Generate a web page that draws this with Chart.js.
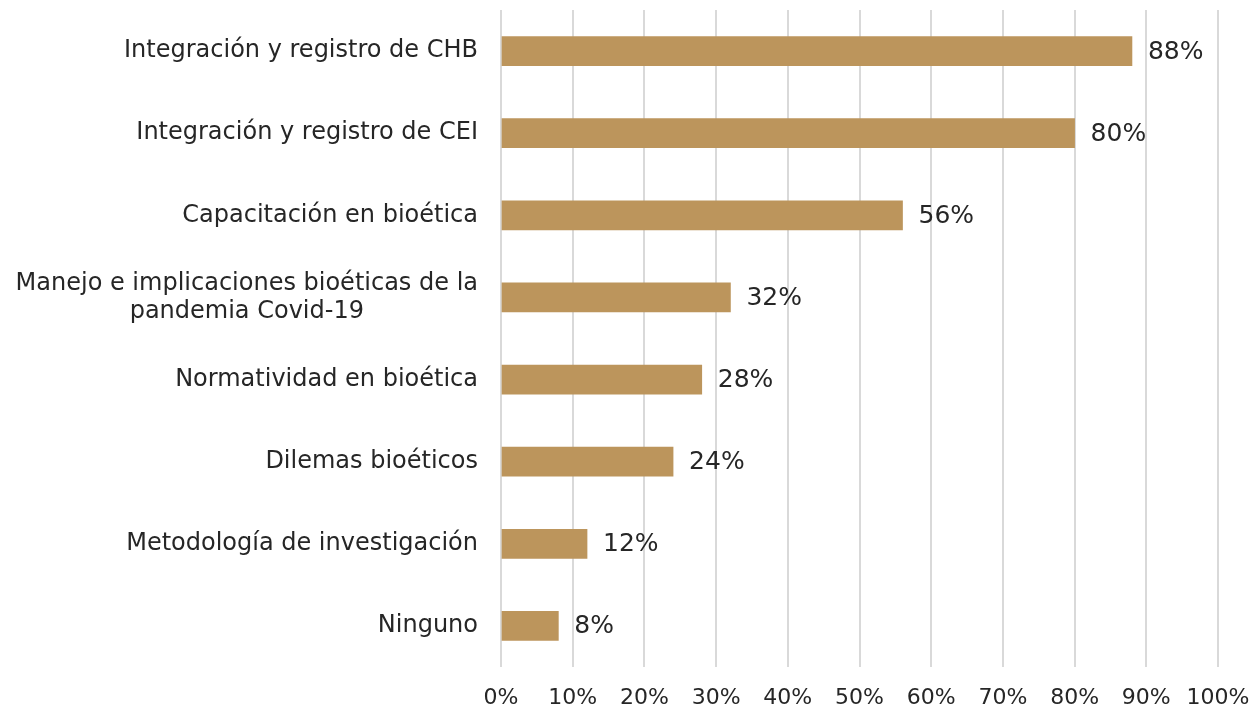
<!DOCTYPE html>
<html>
<head>
<meta charset="utf-8">
<script src="https://cdn.jsdelivr.net/npm/chart.js@4"></script>
<style>
  html, body { margin: 0; padding: 0; background: #fff; }
  #wrap { width: 1253px; height: 708px; }
</style>
</head>
<body>
<div id="wrap"><canvas id="chart"></canvas></div>
<script>
const categories = [
    ['Integración y registro de CHB'],
    ['Integración y registro de CEI'],
    ['Capacitación en bioética'],
    ['Manejo e implicaciones bioéticas de la', 'pandemia Covid-19'],
    ['Normatividad en bioética'],
    ['Dilemas bioéticos'],
    ['Metodología de investigación'],
    ['Ninguno']
];
const values = [88, 80, 56, 32, 28, 24, 12, 8];
const xTicks = [0, 10, 20, 30, 40, 50, 60, 70, 80, 90, 100];

const FONT = '"DejaVu Sans", sans-serif';
const TEXT = '#262626';

// y labels: block right aligned, lines centred on each other
const yLabelPlugin = {
    id: 'yLabels',
    afterDraw(chart) {
        const ctx = chart.ctx;
        const y = chart.scales.y;
        ctx.save();
        ctx.font = '24px ' + FONT;
        ctx.fillStyle = TEXT;
        ctx.textAlign = 'center';
        ctx.textBaseline = 'middle';
        const right = chart.chartArea.left - 23;
        const lh = 28;
        categories.forEach((lines, i) => {
            const cy = y.getPixelForTick(i);
            const w = Math.max(...lines.map(l => ctx.measureText(l).width));
            const cx = right - w / 2;
            lines.forEach((l, j) => {
                ctx.fillText(l, cx, cy + (j - (lines.length - 1) / 2) * lh);
            });
        });
        ctx.restore();
    }
};

const valueLabelPlugin = {
    id: 'valueLabels',
    afterDatasetsDraw(chart) {
        const ctx = chart.ctx;
        const meta = chart.getDatasetMeta(0);
        ctx.save();
        ctx.font = '25px ' + FONT;
        ctx.fillStyle = TEXT;
        ctx.textAlign = 'left';
        ctx.textBaseline = 'middle';
        meta.data.forEach((bar, i) => {
            ctx.fillText(values[i] + '%', bar.x + 16, bar.y + 1);
        });
        ctx.restore();
    }
};

new Chart(document.getElementById('chart'), {
    type: 'bar',
    data: {
        labels: categories.map(c => c.join(' ')),
        datasets: [{
            data: values,
            backgroundColor: '#BC955C',
            barThickness: 29
        }]
    },
    plugins: [yLabelPlugin, valueLabelPlugin],
    options: {
        indexAxis: 'y',
        responsive: true,
        maintainAspectRatio: false,
        animation: false,
        plugins: {
            legend: { display: false },
            tooltip: { enabled: false }
        },
        layout: {
            padding: { left: 0, right: 35, top: 10, bottom: 0 }
        },
        scales: {
            x: {
                min: 0,
                max: 100,
                afterBuildTicks: (s) => { s.ticks = xTicks.map(v => ({ value: v })); },
                afterFit: (s) => {
                    s.height = 41;
                    s.paddingLeft = 0;
                    s.paddingRight = 0;
                },
                ticks: {
                    color: TEXT,
                    font: { family: FONT, size: 22 },
                    padding: 18,
                    maxRotation: 0,
                    autoSkip: false,
                    callback: (v) => v + '%'
                },
                grid: { color: '#d9d9d9', lineWidth: 2, drawTicks: false },
                border: { display: false }
            },
            y: {
                ticks: { display: false },
                afterFit: (s) => { s.width = 501; },
                grid: { display: false, drawTicks: false },
                border: { display: false }
            }
        }
    }
});
</script>
</body>
</html>
